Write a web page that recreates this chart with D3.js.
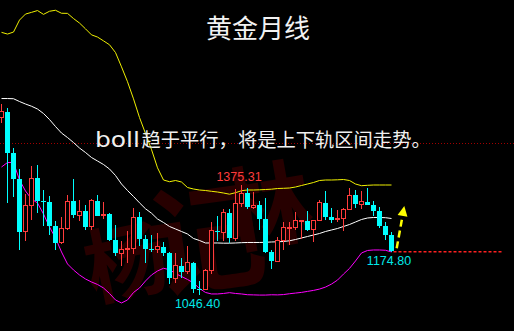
<!DOCTYPE html>
<html>
<head>
<meta charset="utf-8">
<script src="https://cdn.jsdelivr.net/npm/d3@7"></script>
<style>
html, body { margin: 0; padding: 0; background: #000; overflow: hidden; }
svg { display: block; }
</style>
</head>
<body>
<div id="chart"></div>
<script>
// monthly candles, Mar 2013 .. Aug 2018
const months = d3.timeMonth.range(new Date(2013, 2, 1), new Date(2018, 8, 1));

const open = [1578.5, 1595.7, 1472.1, 1392.6, 1234.6, 1312.9, 1395.8, 1326.5, 1323.5, 1253.1,
    1201.6, 1244.8, 1326.5, 1283.9, 1295.9, 1250.5, 1327.3, 1282.6, 1287.2, 1210.6, 1171.2, 1182.0,
    1184.0, 1279.0, 1212.5, 1183.7, 1182.8, 1190.5, 1171.8, 1095.2, 1132.5, 1115.0, 1142.0, 1064.5,
    1061.0, 1118.0, 1238.0, 1234.0, 1292.0, 1215.0, 1321.0, 1350.0, 1309.0, 1315.0, 1272.0, 1173.0,
    1146.0, 1210.0, 1248.0, 1249.0, 1268.0, 1268.0, 1241.0, 1269.0, 1322.0, 1280.0, 1271.0, 1275.0,
    1303.0, 1345.0, 1318.0, 1325.0, 1316.0, 1298.0, 1252.0, 1224.0];
const high = [1616.9, 1605.5, 1487.6, 1423.8, 1348.0, 1433.8, 1434.3, 1361.0, 1343.0, 1267.0,
    1280.0, 1345.0, 1392.0, 1331.6, 1315.0, 1332.0, 1345.0, 1324.0, 1292.0, 1255.0, 1208.0, 1238.0,
    1307.0, 1293.0, 1224.0, 1224.5, 1232.0, 1205.0, 1175.0, 1170.5, 1157.5, 1191.5, 1143.0, 1088.0,
    1122.0, 1263.0, 1283.0, 1303.0, 1303.0, 1362.0, 1375.31, 1366.0, 1353.0, 1326.0, 1337.0, 1181.0,
    1220.0, 1264.0, 1263.0, 1295.0, 1270.0, 1296.0, 1271.0, 1331.0, 1357.0, 1306.0, 1299.0, 1307.0,
    1366.0, 1361.0, 1356.0, 1365.0, 1326.0, 1309.0, 1265.0, 1235.0];
const low = [1562.6, 1321.4, 1338.1, 1180.7, 1208.0, 1271.7, 1291.9, 1251.0, 1225.9, 1181.4,
    1198.0, 1240.0, 1277.0, 1268.0, 1240.6, 1240.0, 1281.0, 1273.0, 1206.0, 1161.0, 1131.0, 1142.0,
    1167.0, 1191.0, 1142.6, 1175.0, 1170.5, 1162.5, 1077.0, 1080.0, 1097.5, 1108.0, 1052.0, 1046.4,
    1061.0, 1107.0, 1208.0, 1207.0, 1200.0, 1207.0, 1310.0, 1302.0, 1304.0, 1241.0, 1171.0, 1122.0,
    1146.0, 1180.0, 1194.0, 1241.0, 1214.0, 1236.0, 1204.0, 1266.0, 1271.0, 1260.0, 1263.0, 1236.0,
    1302.0, 1307.0, 1303.0, 1314.0, 1281.0, 1246.0, 1211.0, 1174.8];
const close = [1595.7, 1472.1, 1392.6, 1234.6, 1312.9, 1395.8, 1326.5, 1323.5, 1253.1, 1201.6,
    1244.8, 1326.5, 1283.9, 1295.9, 1250.5, 1327.3, 1282.6, 1287.2, 1210.6, 1171.2, 1182.0, 1184.0,
    1279.0, 1212.5, 1183.7, 1182.8, 1190.5, 1171.8, 1095.2, 1132.5, 1115.0, 1142.0, 1064.5, 1061.0,
    1118.0, 1238.0, 1234.0, 1292.0, 1215.0, 1321.0, 1350.0, 1309.0, 1315.0, 1272.0, 1173.0, 1146.0,
    1210.0, 1248.0, 1249.0, 1268.0, 1268.0, 1241.0, 1269.0, 1322.0, 1280.0, 1271.0, 1275.0, 1303.0,
    1345.0, 1318.0, 1325.0, 1316.0, 1298.0, 1252.0, 1224.0, 1176.5];

// bollinger bands
const bollUpper = [1833.4, 1828.3, 1834.3, 1870.3, 1888.3, 1893.4, 1898.8, 1887.4, 1896.7, 1899.7,
    1890.7, 1890.4, 1874.8, 1861.3, 1843.9, 1825.9, 1819.3, 1807.9, 1796.2, 1772.8, 1729.9, 1685.2,
    1633.9, 1577.8, 1529.8, 1481.8, 1426.9, 1390.3, 1385.2, 1388.8, 1384.3, 1367.8, 1363.3, 1360.3,
    1358.8, 1356.4, 1354.3, 1351.3, 1347.7, 1352.2, 1358.2, 1360.3, 1360.3, 1360.9, 1361.8, 1362.7,
    1364.8, 1365.4, 1366.3, 1369.3, 1373.8, 1378.3, 1382.8, 1388.8, 1390.3, 1390.3, 1390.9, 1391.8,
    1388.8, 1378.3, 1373.2, 1374.4, 1375.3, 1375.3, 1375.3, 1375.3];
const bollMid = [1634.8, 1634.8, 1634.2, 1625.8, 1618.3, 1611.7, 1603.3, 1589.8, 1571.8, 1550.8,
    1531.3, 1517.8, 1502.8, 1486.3, 1472.8, 1457.8, 1447.3, 1436.8, 1423.3, 1403.8, 1378.3, 1358.8,
    1340.8, 1321.9, 1303.9, 1290.7, 1273.3, 1262.8, 1250.8, 1243.3, 1235.8, 1228.3, 1214.8, 1208.8,
    1201.3, 1201.3, 1201.3, 1200.7, 1200.7, 1201.3, 1202.2, 1202.8, 1202.8, 1202.8, 1203.4, 1204.3,
    1204.9, 1205.8, 1207.9, 1211.8, 1216.3, 1220.8, 1225.3, 1229.8, 1235.8, 1240.3, 1244.8, 1250.8,
    1256.8, 1264.3, 1271.8, 1276.3, 1277.8, 1277.8, 1277.2, 1274.8];
const bollLower = [1429.3, 1442.8, 1442.8, 1390.3, 1357.3, 1333.3, 1321.3, 1288.3, 1249.3, 1216.3,
    1174.3, 1138.3, 1120.3, 1105.3, 1093.3, 1084.3, 1076.8, 1066.3, 1049.8, 1030.3, 1021.3, 1030.3,
    1052.8, 1066.3, 1087.3, 1105.3, 1117.3, 1125.4, 1121.2, 1109.8, 1100.8, 1091.8, 1081.3, 1064.8,
    1052.8, 1048.3, 1048.3, 1049.8, 1052.2, 1049.8, 1048.3, 1046.0, 1045.5, 1045.0, 1045.0, 1045.9,
    1045.5, 1046.5, 1049.0, 1051.0, 1053.0, 1056.0, 1059.0, 1063.0, 1069.0, 1078.0, 1090.0, 1108.0,
    1125.0, 1147.3, 1171.3, 1178.8, 1180.3, 1180.3, 1179.4, 1174.3];

// marked extremes: [value, candle index]
const markHigh = [1375.31, 40];
const markLow = [1046.40, 33];
const markLast = [1174.80, 65];
const refLevel = 1501.3;   // thin dotted red line
const arrowFrom = 1185.5, arrowTo = 1312;

const width = 514, height = 331;
const upColor = "#ff3c3c", downColor = "#00ffff";

const svg = d3.select("#chart").append("svg")
    .attr("width", width)
    .attr("height", height);

svg.append("rect").attr("width", width).attr("height", height).attr("fill", "#000");

const fmt = d3.timeFormat("%Y-%m");
const keys = months.map(fmt);

const x = d3.scalePoint().domain(keys).range([1.5, 391.5]);
const y = d3.scaleLinear().domain([1046.40, 1375.31]).range([294.6, 185]);

const candles = keys.map(function (k, i) {
    return {key: k, o: open[i], h: high[i], l: low[i], c: close[i]};
});

// faint red watermark behind the chart
const wm = svg.append("g")
    .attr("fill", "#420000")
    .attr("font-family", "'Noto Sans CJK SC', sans-serif")
    .attr("font-weight", 700)
    .attr("opacity", 0.6);
wm.append("text").attr("transform", "translate(132,292) rotate(-12)")
    .attr("font-size", 82).attr("text-anchor", "middle").text("杨");
wm.append("text").attr("transform", "translate(212,282) rotate(-8)")
    .attr("font-size", 118).attr("text-anchor", "middle").text("记");
wm.append("text").attr("transform", "translate(272,240) rotate(-10)")
    .attr("font-size", 92).attr("text-anchor", "middle").text("林");

// dotted reference line
svg.append("line")
    .attr("x1", 0).attr("x2", width)
    .attr("y1", Math.round(y(refLevel)) + 0.5).attr("y2", Math.round(y(refLevel)) + 0.5)
    .attr("stroke", "#a00000")
    .attr("stroke-dasharray", "1,2");

// bollinger bands
const bandLine = d3.line()
    .x(function (d, i) { return x(keys[i]); })
    .y(function (d) { return y(d); });

[[bollUpper, "#f0f000"], [bollMid, "#ffffff"], [bollLower, "#ff00ff"]].forEach(function (b) {
    svg.append("path")
        .datum(b[0])
        .attr("fill", "none")
        .attr("stroke", b[1])
        .attr("stroke-width", 1)
        .attr("d", bandLine);
});

// candles
const cg = svg.append("g").attr("shape-rendering", "crispEdges");

cg.selectAll("line.wick")
    .data(candles)
    .join("line")
    .attr("class", "wick")
    .attr("x1", function (d) { return x(d.key); })
    .attr("x2", function (d) { return x(d.key); })
    .attr("y1", function (d) { return y(d.h); })
    .attr("y2", function (d) { return y(d.l); })
    .attr("stroke", function (d) { return d.c >= d.o ? upColor : downColor; });

cg.selectAll("rect.body")
    .data(candles)
    .join("rect")
    .attr("class", "body")
    .attr("x", function (d) { return d.c >= d.o ? x(d.key) - 2 : x(d.key) - 2.5; })
    .attr("width", function (d) { return d.c >= d.o ? 4 : 5; })
    .attr("y", function (d) { return y(Math.max(d.o, d.c)); })
    .attr("height", function (d) { return Math.max(Math.abs(y(d.o) - y(d.c)), 1); })
    .attr("fill", function (d) { return d.c >= d.o ? "#000" : downColor; })
    .attr("stroke", function (d) { return d.c >= d.o ? upColor : "none"; });

// last-price dashed line
svg.append("line")
    .attr("x1", x(keys[markLast[1]]) + 2).attr("x2", 502)
    .attr("y1", y(markLast[0])).attr("y2", y(markLast[0]))
    .attr("stroke", "#ff2020")
    .attr("stroke-width", 1.5)
    .attr("stroke-dasharray", "3,2");

// value labels
const lbl = svg.append("g")
    .attr("font-family", "'Liberation Sans', Arial, sans-serif")
    .attr("font-size", 12.5)
    .attr("text-anchor", "middle");

lbl.append("text")
    .attr("x", x(keys[markHigh[1]]) - 2.5)
    .attr("y", y(markHigh[0]) - 4)
    .attr("fill", "#ff3c3c")
    .text(markHigh[0].toFixed(2));

lbl.append("text")
    .attr("x", x(keys[markLow[1]]) - 2)
    .attr("y", y(markLow[0]) + 13)
    .attr("fill", "#00e8e8")
    .text(markLow[0].toFixed(2));

lbl.append("text")
    .attr("x", x(keys[markLast[1]]) - 2.5)
    .attr("y", y(markLast[0]) + 13.3)
    .attr("fill", "#00e8e8")
    .text(markLast[0].toFixed(2));

// yellow dashed arrow
const ax0 = x(keys[markLast[1]]) + 5.2, ay0 = y(arrowFrom);
const ax1 = x(keys[markLast[1]]) + 12.8, ay1 = y(arrowTo);
const len = Math.hypot(ax1 - ax0, ay1 - ay0);
const ux = (ax1 - ax0) / len, uy = (ay1 - ay0) / len;
const headLen = 10, headW = 5;
const bx = ax1 - ux * headLen, by = ay1 - uy * headLen;

svg.append("line")
    .attr("x1", ax0).attr("y1", ay0)
    .attr("x2", bx).attr("y2", by)
    .attr("stroke", "#ffff00")
    .attr("stroke-width", 2.5)
    .attr("stroke-dasharray", "7,4");

svg.append("path")
    .attr("d", "M" + ax1 + "," + ay1 +
        "L" + (bx - uy * headW) + "," + (by + ux * headW) +
        "L" + (bx + uy * headW) + "," + (by - ux * headW) + "Z")
    .attr("fill", "#ffff00");

// title and note
svg.append("text")
    .attr("x", 258).attr("y", 38)
    .attr("text-anchor", "middle")
    .attr("font-family", "'Noto Sans CJK SC', sans-serif")
    .attr("font-size", 26)
    .attr("fill", "#f2f2f2")
    .text("黄金月线");

svg.append("text")
    .attr("x", 95).attr("y", 146.5)
    .attr("font-family", "'DejaVu Sans', sans-serif")
    .attr("font-size", 22)
    .attr("fill", "#f0f0f0")
    .attr("textLength", 45)
    .attr("lengthAdjust", "spacingAndGlyphs")
    .text("boll");

svg.append("text")
    .attr("x", 141.5).attr("y", 146.5)
    .attr("font-family", "'Noto Sans CJK SC', sans-serif")
    .attr("font-size", 19.3)
    .attr("fill", "#f0f0f0")
    .text("趋于平行，将是上下轨区间走势。");
</script>
</body>
</html>
